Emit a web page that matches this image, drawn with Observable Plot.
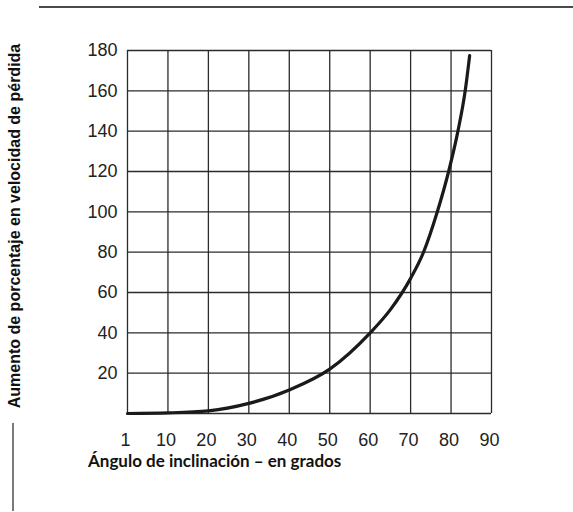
<!DOCTYPE html>
<html>
<head>
<meta charset="utf-8">
<script src="https://cdn.jsdelivr.net/npm/d3@7"></script>
<script src="https://cdn.jsdelivr.net/npm/@observablehq/plot@0.6"></script>
<style>
  html, body { margin: 0; padding: 0; background: #fff; }
  #wrap { position: relative; width: 573px; height: 512px; overflow: hidden; background: #fff; }
  #chart { position: absolute; left: 0; top: 0; }
  .rule-top { position: absolute; left: 39px; top: 6px; width: 534px; height: 2px; background: #4a4a4a; }
  .rule-left { position: absolute; left: 12px; top: 423px; width: 2px; height: 88px; background: #7a7a7a; }
  .ytitle {
    position: absolute; left: 15px; top: 226px;
    transform: translate(-50%, -50%) rotate(-90deg);
    white-space: nowrap;
    font: bold 16px "Liberation Sans", Arial, sans-serif; color: #111;
  }
  .xtitle {
    position: absolute; left: 88px; top: 450px;
    white-space: nowrap; line-height: 17px;
    font: bold 17px Lato, "Open Sans", sans-serif; color: #111;
  }
</style>
</head>
<body>
<div id="wrap">
  <div class="rule-top"></div>
  <div class="rule-left"></div>
  <div id="chart"></div>
  <div class="ytitle">Aumento de porcentaje en velocidad de pérdida</div>
  <div class="xtitle">Ángulo de inclinación – en grados</div>
</div>
<script>
// Bank angle (degrees) and percent increase in stall speed
const angles   = [0, 10, 20, 30, 40, 50, 60, 65, 70, 73.2, 76.6, 79.4, 81.7, 83.5, 84.6];
const increase = [0, 0.3, 1.3, 5, 11.7, 22, 40, 51.5, 67, 80, 100, 120, 140, 160, 177.5];

const xTicks = [0, 10, 20, 30, 40, 50, 60, 70, 80, 90];
const xTickLabels = ["1", "10", "20", "30", "40", "50", "60", "70", "80", "90"];
const yGrid = [0, 20, 40, 60, 80, 100, 120, 140, 160, 180];
const yTicks = [20, 40, 60, 80, 100, 120, 140, 160, 180];

const data = angles.map((a, i) => ({angle: a, pct: increase[i]}));

const chart = Plot.plot({
  width: 573,
  height: 512,
  marginLeft: 127,
  marginRight: 82,
  marginTop: 50,
  marginBottom: 99,
  style: {fontFamily: "'Liberation Sans', Arial, sans-serif", background: "transparent", color: "#222"},
  x: {domain: [0, 90]},
  y: {domain: [0, 180]},
  marks: [
    Plot.gridX(xTicks, {stroke: "#2b2b2b", strokeOpacity: 1, strokeWidth: 1.3}),
    Plot.gridY(yGrid, {stroke: "#2b2b2b", strokeOpacity: 1, strokeWidth: 1.3}),
    Plot.axisX({ticks: xTicks, tickFormat: d => xTickLabels[xTicks.indexOf(d)], tickSize: 0, tickPadding: 20, fontSize: 18, dx: -2, label: null, fill: "#222"}),
    Plot.axisY({ticks: yTicks, tickSize: 0, tickPadding: 10, fontSize: 18, label: null, fill: "#222"}),
    Plot.line(data, {x: "angle", y: "pct", curve: "monotone-x", stroke: "#1a1a1a", strokeWidth: 3.2})
  ]
});
document.getElementById("chart").appendChild(chart);
</script>
</body>
</html>
